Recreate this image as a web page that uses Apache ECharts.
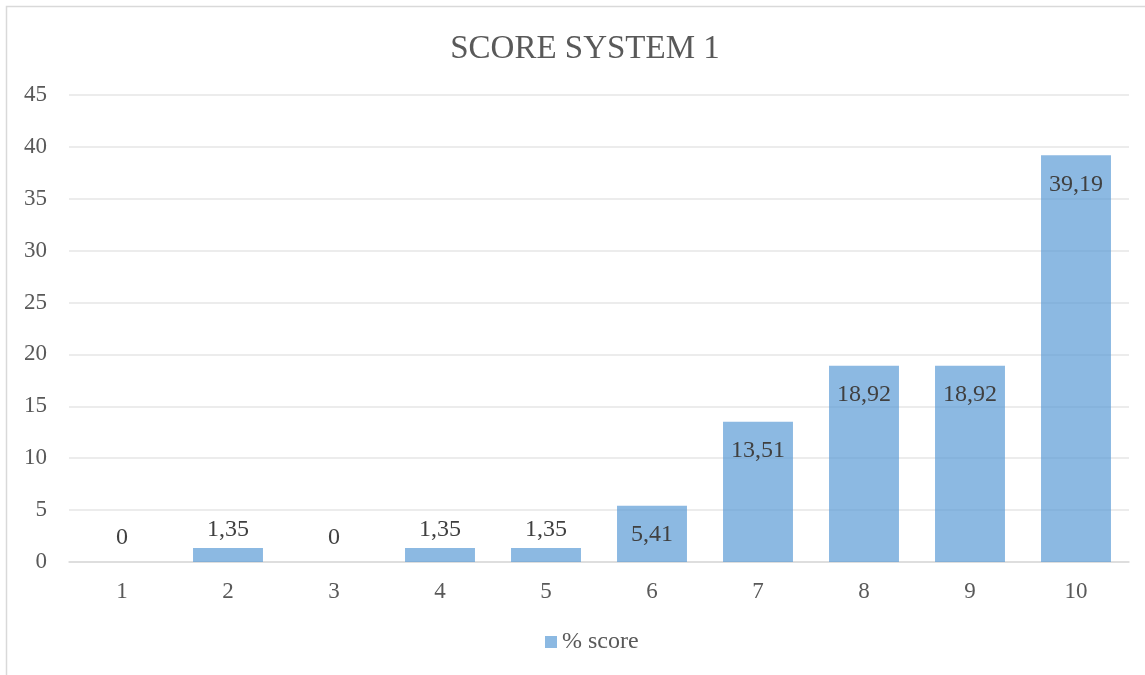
<!DOCTYPE html>
<html>
<head>
<meta charset="utf-8">
<script src="https://cdn.jsdelivr.net/npm/echarts@6/dist/echarts.min.js"></script>
<style>
  html, body { margin: 0; padding: 0; background: #fff; }
  #main { width: 1145px; height: 675px; }
</style>
</head>
<body>
<div id="main"></div>
<script>
// score categories and percentage values
const categories = ['1', '2', '3', '4', '5', '6', '7', '8', '9', '10'];
const scores = [0, 1.35, 0, 1.35, 1.35, 5.41, 13.51, 18.92, 18.92, 39.19];
const seriesName = '% score';
const titleText = 'SCORE SYSTEM 1';

const fontFam = '"Liberation Serif", "DejaVu Serif", serif';
const chart = echarts.init(document.getElementById('main'));

// small bars get the label above, the rest inside the top
const barData = scores.map(function (v) {
  let dist = 17;
  if (v === 0) dist = 12;
  else if (v < 5) dist = 6;
  return {
    value: v,
    label: { position: v < 5 ? 'top' : 'insideTop', distance: dist }
  };
});

chart.setOption({
  animation: false,
  textStyle: { fontFamily: fontFam },
  graphic: [{
    type: 'rect',
    shape: { x: 6.5, y: 6.5, width: 1160, height: 700 },
    style: { fill: 'none', stroke: '#d9d9d9', lineWidth: 1.5 },
    silent: true
  }],
  title: {
    text: titleText,
    left: 580,
    textAlign: 'center',
    top: 28,
    textStyle: { fontFamily: fontFam, fontSize: 33, fontWeight: 'normal', color: '#595959' }
  },
  legend: {
    bottom: 16,
    left: 540,
    itemWidth: 12,
    itemHeight: 12,
    itemGap: 4,
    icon: 'rect',
    textStyle: { fontFamily: fontFam, fontSize: 24, color: '#595959' },
    data: [seriesName]
  },
  grid: { left: 69, right: 16, top: 95, bottom: 113 },
  xAxis: {
    type: 'category',
    data: categories,
    axisLine: { lineStyle: { color: '#d9d9d9', width: 1.5 } },
    axisTick: { show: false },
    axisLabel: { fontFamily: fontFam, fontSize: 23, color: '#595959', margin: 18 }
  },
  yAxis: {
    type: 'value',
    min: 0,
    max: 45,
    interval: 5,
    axisLine: { show: false },
    axisTick: { show: false },
    splitLine: { lineStyle: { color: '#e6e6e6', width: 1.5 } },
    axisLabel: { fontFamily: fontFam, fontSize: 23, color: '#595959', margin: 22 }
  },
  series: [{
    name: seriesName,
    type: 'bar',
    data: barData,
    barCategoryGap: '34%',
    itemStyle: { color: 'rgba(91,155,213,0.7)' },
    label: {
      show: true,
      fontFamily: fontFam,
      fontSize: 24,
      color: '#404040',
      formatter: function (p) { return String(p.value).replace('.', ','); }
    }
  }]
});
</script>
</body>
</html>
